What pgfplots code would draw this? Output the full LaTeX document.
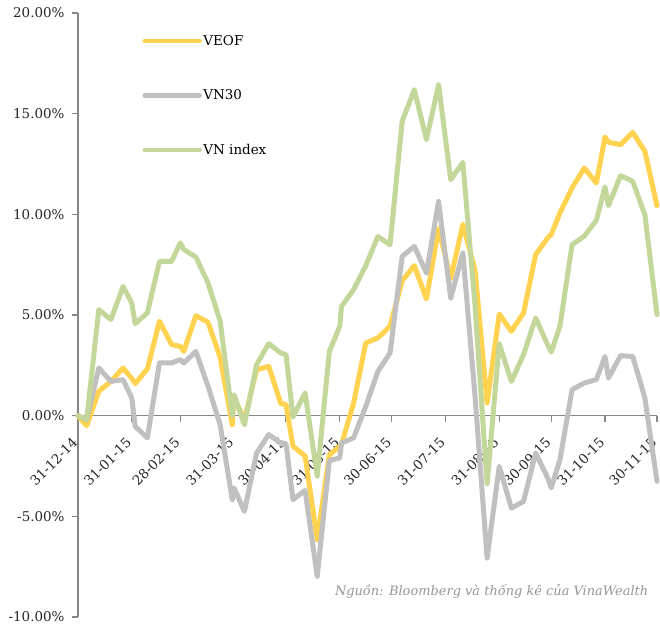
\documentclass[border=0pt]{standalone}
\usepackage{fontspec}
\setmainfont{DejaVu Serif}
\usepackage{pgfplots}
\pgfplotsset{compat=1.18}
\usepackage{pgfplotstable}
\definecolor{veof}{RGB}{255,211,79}
\definecolor{vnthirty}{RGB}{192,192,192}
\definecolor{vnindex}{RGB}{196,215,155}
\definecolor{axisgray}{RGB}{134,134,134}
\definecolor{capgray}{RGB}{150,150,150}
\pgfplotstableread{
day veof vn30 vni
0 0.00 0.00 0.00
5 -0.50 -0.20 -0.20
12 1.21 2.37 5.27
19 1.70 1.70 4.77
26 2.37 1.79 6.42
31 1.85 0.88 5.60
33 1.59 -0.53 4.57
40 2.32 -1.11 5.10
47 4.69 2.62 7.66
54 3.53 2.62 7.66
59 3.44 2.78 8.58
61 3.19 2.62 8.25
68 4.97 3.19 7.88
75 4.64 1.46 6.59
82 2.90 -0.45 4.70
89 -0.45 -4.17 0.00
90 0.90 -3.59 1.04
96 -0.20 -4.75 -0.45
103 2.28 -1.86 2.53
110 2.45 -0.94 3.58
117 0.60 -1.36 3.11
120 0.55 -1.39 3.03
124 -1.52 -4.17 -0.07
131 -2.00 -3.71 1.13
138 -6.16 -7.98 -3.00
145 -1.94 -2.23 3.19
151 -1.52 -2.10 4.44
152 -1.44 -1.36 5.43
159 0.63 -1.10 6.26
166 3.61 0.46 7.45
173 3.86 2.20 8.90
180 4.44 3.11 8.49
187 6.70 7.91 14.62
194 7.45 8.41 16.19
201 5.80 7.08 13.71
208 9.30 10.64 16.44
215 6.80 5.84 11.72
222 9.50 8.08 12.58
229 7.25 1.00 5.50
236 0.63 -7.07 -3.38
243 5.05 -2.52 3.57
250 4.19 -4.59 1.70
257 5.10 -4.26 3.03
264 8.00 -1.86 4.85
271 8.83 -3.10 3.50
273 9.00 -3.59 3.16
278 10.07 -2.19 4.44
285 11.31 1.29 8.49
292 12.30 1.62 8.91
299 11.56 1.79 9.70
304 13.84 2.94 11.36
306 13.58 1.87 10.43
313 13.46 2.98 11.92
320 14.07 2.94 11.64
327 13.13 0.88 9.98
334 10.43 -3.26 5.02
}\data
\begin{document}
\begin{tikzpicture}
\begin{axis}[
  at={(0,0)}, anchor=south west,
  scale only axis, width=579bp, height=604bp,
  xmin=0, xmax=334, ymin=-10, ymax=20,
  axis x line*=middle, axis y line*=left,
  axis line style={draw=axisgray, line width=1.3bp},
  hide obscured x ticks=false, hide obscured y ticks=false,
  xtick={0,31,59,90,120,151,181,212,243,273,304,334},
  xticklabels={31-12-14,31-01-15,28-02-15,31-03-15,30-04-15,31-05-15,30-06-15,31-07-15,31-08-15,30-09-15,31-10-15,30-11-15},
  ytick={-10,-5,0,5,10,15,20},
  yticklabels={-10.00\%,-5.00\%,0.00\%,5.00\%,10.00\%,15.00\%,20.00\%},
  tick align=outside,
  major tick length=6bp,
  tick style={draw=axisgray, line width=1.3bp},
  ticklabel style={font=\fontsize{13.5}{16}\selectfont, text=black!85},
  xticklabel style={rotate=45, anchor=east, inner sep=1bp, xshift=-14bp, yshift=-11bp},
  yticklabel style={xshift=-4bp},
  legend style={at={(0.111,0.966)}, anchor=north west, draw=none, fill=none,
    inner sep=0pt, row sep=40bp, font=\fontsize{13.5}{16}\selectfont,
    nodes={inner sep=1.5bp}},
  legend cell align=left,
  legend image code/.code={\draw[#1, line width=4.5bp, line cap=round] (0bp,0bp) -- (55bp,0bp);},
  every axis plot/.append style={line width=5bp, line join=round, line cap=round, mark=none},
  clip=false,
]
\addplot[veof] table[x=day, y=veof] {\data};
\addlegendentry{VEOF}
\addplot[vnthirty] table[x=day, y=vn30] {\data};
\addlegendentry{VN30}
\addplot[vnindex] table[x=day, y=vni] {\data};
\addlegendentry{VN index}
\node[anchor=east, font=\itshape\fontsize{13}{15}\selectfont, text=capgray] at (axis cs:331,-8.74) {Nguồn: Bloomberg và thống kê của VinaWealth};
\end{axis}
\pgfresetboundingbox
\path[use as bounding box] (-78bp,-12bp) rectangle (582bp,617bp);
\end{tikzpicture}
\end{document}
